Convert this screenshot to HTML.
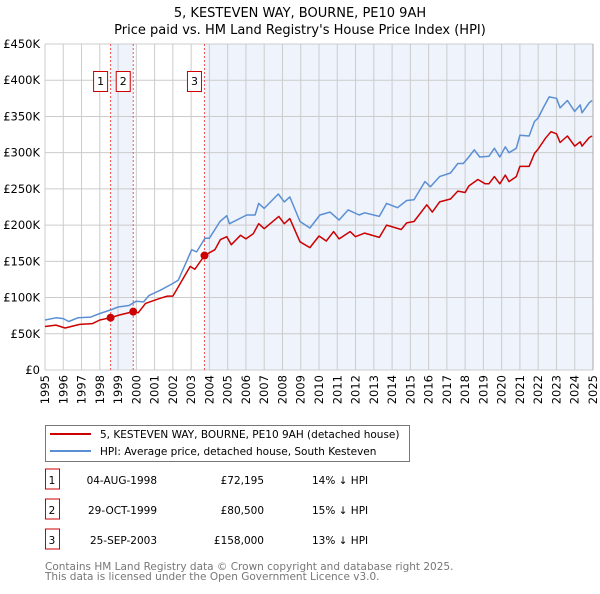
<!DOCTYPE html>
<html><head><meta charset="utf-8"><style>
body{margin:0;background:#fff;font-family:"DejaVu Sans","Liberation Sans",sans-serif;}
svg text{font-family:"DejaVu Sans","Liberation Sans",sans-serif;}
</style></head><body>
<svg id="c" width="600" height="590" xmlns="http://www.w3.org/2000/svg">
<text x="300" y="17" text-anchor="middle" font-size="13">5, KESTEVEN WAY, BOURNE, PE10 9AH</text>
<text x="300" y="34" text-anchor="middle" font-size="13">Price paid vs. HM Land Registry's House Price Index (HPI)</text>
<g id="plot"></g>
<g>
<rect x="45.5" y="425.5" width="364" height="36" fill="#fff" stroke="#777"/>
<line x1="50" y1="434" x2="91" y2="434" stroke="#cc0000" stroke-width="2"/>
<text x="100" y="438" font-size="10.5">5, KESTEVEN WAY, BOURNE, PE10 9AH (detached house)</text>
<line x1="50" y1="451" x2="91" y2="451" stroke="#5b8fd4" stroke-width="2"/>
<text x="100" y="455" font-size="10.5">HPI: Average price, detached house, South Kesteven</text>
</g>
<g id="table" font-size="10.5"></g>
<text x="45" y="570" font-size="10.5" fill="#777">Contains HM Land Registry data © Crown copyright and database right 2025.</text>
<text x="45" y="580" font-size="10.5" fill="#777">This data is licensed under the Open Government Licence v3.0.</text>
</svg>
<script>
const hpiYears=[1995,1995.6,1996,1996.3,1996.8,1997.5,1998,1998.6,1999,1999.6,2000,2000.4,2000.7,2001.3,2001.9,2002.3,2003.03,2003.3,2003.76,2004,2004.58,2004.95,2005.1,2006.04,2006.5,2006.7,2007,2007.77,2008.1,2008.4,2008.96,2009.5,2010.05,2010.6,2011.1,2011.6,2012.2,2012.5,2013.3,2013.7,2014.3,2014.8,2015.2,2015.8,2016.1,2016.6,2017.2,2017.6,2017.9,2018.2,2018.5,2018.8,2019.3,2019.6,2019.9,2020.2,2020.4,2020.8,2021,2021.5,2021.8,2022,2022.3,2022.6,2023,2023.2,2023.6,2024,2024.3,2024.4,2024.8,2024.95];
const hpiValues=[69,72,71,67,72,73,78,83,87,89,95,94,103,110,118,124,166,163,182,182,205,213,202,214,214,230,223,243,232,239,205,196,214,218,207,221,214,217,212,230,224,234,235,260,253,267,272,285,285,294,304,294,295,306,294,308,300,306,324,323,343,348,363,377,375,362,372,357,366,355,369,372];
const ppYears=[1995,1995.6,1996.1,1996.9,1997.6,1998,1998.59,1999.1,1999.83,2000.1,2000.5,2001.3,2001.7,2002,2002.95,2003.2,2003.73,2004.3,2004.6,2004.95,2005.2,2005.7,2006,2006.4,2006.7,2007,2007.8,2008.1,2008.4,2008.96,2009.5,2010,2010.4,2010.8,2011.1,2011.7,2012,2012.5,2013.3,2013.7,2014.5,2014.8,2015.2,2015.9,2016.2,2016.6,2017.2,2017.6,2018,2018.2,2018.7,2019.1,2019.3,2019.6,2019.9,2020.2,2020.4,2020.8,2021,2021.5,2021.8,2022,2022.4,2022.7,2023,2023.2,2023.6,2024,2024.3,2024.4,2024.8,2024.95];
const ppValues=[60,62,58,63,64,69,72.2,76,80.5,79,92,99,102,102,143,139,158,166,180,184,173,186,181,188,202,195,212,202,209,177,169,185,178,191,181,191,184,189,183,200,194,203,205,228,218,232,236,247,245,254,263,257,257,267,257,269,260,267,281,281,299,305,320,329,326,314,323,309,315,309,321,323];
const saleYears=[1998.59,1999.83,2003.73];
const saleValues=[72.195,80.5,158];
const saleLabels=["1","2","3"];
const saleDates=["04-AUG-1998","29-OCT-1999","25-SEP-2003"];
const salePrices=["£72,195","£80,500","£158,000"];
const saleDiffs=["14% ↓ HPI","15% ↓ HPI","13% ↓ HPI"];
const yTicks=[0,50,100,150,200,250,300,350,400,450];
const yTickLabels=["£0","£50K","£100K","£150K","£200K","£250K","£300K","£350K","£400K","£450K"];
const xTicks=[1995,1996,1997,1998,1999,2000,2001,2002,2003,2004,2005,2006,2007,2008,2009,2010,2011,2012,2013,2014,2015,2016,2017,2018,2019,2020,2021,2022,2023,2024,2025];

const X0=45,X1=593,Y0=370,Y1=44;
const sx=y=>X0+(y-1995)/30*(X1-X0);
const sy=v=>Y0-v/450*(Y0-Y1);
const NS="http://www.w3.org/2000/svg";
const plot=document.getElementById('plot');
function mk(t,a,p){const e=document.createElementNS(NS,t);for(const k in a)e.setAttribute(k,a[k]);(p||plot).appendChild(e);return e;}
let r=mk('rect',{x:sx(saleYears[0]),y:Y1,width:sx(saleYears[1])-sx(saleYears[0]),height:Y0-Y1,fill:'#eef3fc'});


r=mk('rect',{x:sx(saleYears[2]),y:Y1,width:X1-sx(saleYears[2]),height:Y0-Y1,fill:'#eef3fc'});


xTicks.forEach(t=>{const l=mk('line',{x1:sx(t),x2:sx(t),y1:Y1,y2:Y0,stroke:'#ccc','stroke-width':1});


const tx=mk('text',{x:0,y:0,'font-size':'11.5','text-anchor':'end',transform:`translate(${sx(t)+4},${Y0+5}) rotate(-90)`});tx.textContent=t;

});
yTicks.forEach((t,i)=>{const l=mk('line',{x1:X0,x2:X1,y1:sy(t),y2:sy(t),stroke:'#ccc','stroke-width':1});


const tx=mk('text',{x:40,y:sy(t)+4,'font-size':'11.5','text-anchor':'end'});tx.textContent=yTickLabels[i];

});
saleYears.forEach((s,i)=>{const l=mk('line',{x1:sx(s),x2:sx(s),y1:Y1,y2:Y0,stroke:'#e55','stroke-width':1,'stroke-dasharray':'2,2'});


const b=mk('rect',{x:sx(s)-17,y:71.5,width:14,height:20,fill:'#fff',stroke:'#c00'});


const t=mk('text',{x:sx(s)-10,y:85,'font-size':'11','text-anchor':'middle'});t.textContent=saleLabels[i];

});
function line(xs,vs,col,name){const d=xs.map((x,i)=>(i?'L':'M')+sx(x).toFixed(1)+','+sy(vs[i]).toFixed(1)).join('');
const p=mk('path',{d,fill:'none',stroke:col,'stroke-width':1.5,'stroke-linejoin':'round'});

}
line(hpiYears,hpiValues,'#5b8fd4','hpi-line');
line(ppYears,ppValues,'#cc0000','price-paid-line');
saleYears.forEach((s,i)=>{const c=mk('circle',{cx:sx(s),cy:sy(saleValues[i]),r:4,fill:'#cc0000'});

});
mk('line',{x1:X1,x2:X1,y1:Y1,y2:Y0,stroke:'#aaa'});
const tb=document.getElementById('table');
saleLabels.forEach((lab,i)=>{const y=483+i*30;
const b=mk('rect',{x:45.5,y:y-14,width:14,height:20,fill:'#fff',stroke:'#c00'},tb);


const cells=[[52,'middle',lab],[157,'end',saleDates[i]],[264,'end',salePrices[i]],[312,'start',saleDiffs[i]]];
cells.forEach(c=>{const t=mk('text',{x:c[0],y:y+1,'text-anchor':c[1]},tb);t.textContent=c[2];

});});
</script>
</body></html>
